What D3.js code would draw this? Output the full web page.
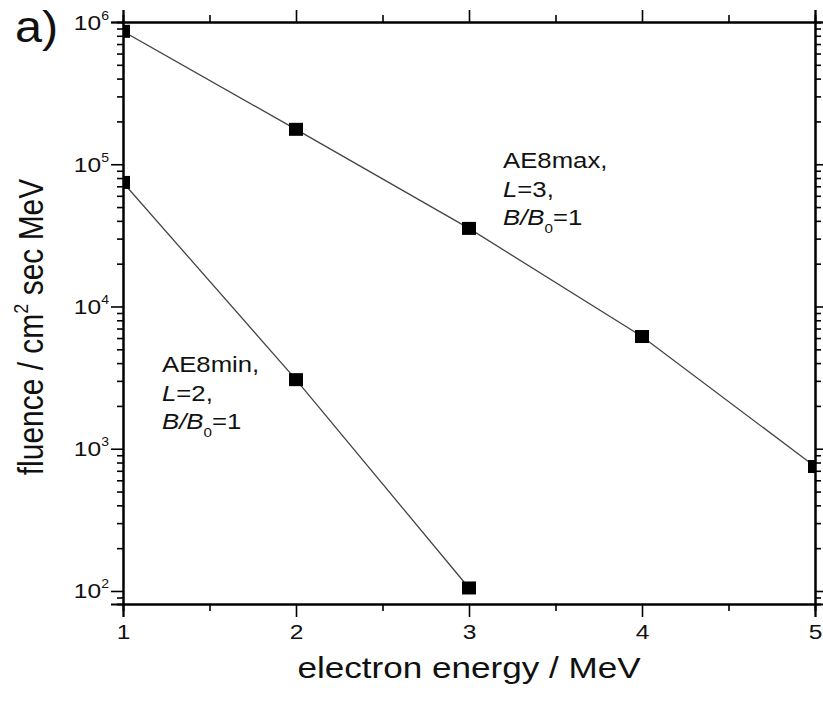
<!DOCTYPE html>
<html>
<head>
<meta charset="utf-8">
<script src="https://cdn.jsdelivr.net/npm/d3@7"></script>
<style>
  body { margin: 0; background: #fff; }
  svg { font-family: Arial, "Liberation Sans", sans-serif; }
</style>
</head>
<body>
<div id="chart"></div>
<script>
// data
var energy = [1, 2, 3, 4, 5];
var ae8max = [8.6e5, 1.76e5, 3.54e4, 6.15e3, 7.5e2];
var energyMin = [1, 2, 3];
var ae8min = [7.45e4, 3.06e3, 1.05e2];
var xMajor = [1, 2, 3, 4, 5];
var xMinor = [1.5, 2.5, 3.5, 4.5];
var yMajor = [1e2, 1e3, 1e4, 1e5, 1e6];
var yExp = [2, 3, 4, 5, 6];

var W = 823, H = 701;
var margin = {top: 22, right: 8, bottom: 97, left: 123};
var width = W - margin.left - margin.right;
var height = H - margin.top - margin.bottom;
var stretch = 1.17; // the original figure is a bit wide for its text

var svg = d3.select('#chart').append('svg')
    .attr('width', W)
    .attr('height', H);

var g = svg.append('g')
    .attr('transform', 'translate(' + margin.left + ',' + margin.top + ')');

var x = d3.scaleLinear().domain([1, 5]).range([0, width]);
var y = d3.scaleLog().domain([81, 1e6]).range([height, 0]);

// minor y ticks 2..9 per decade
var yMinor = [];
yExp.forEach(function(e) {
    for (var k = 2; k <= 9; k++) {
        var v = k * Math.pow(10, e - 1);
        if (v >= 81 && v < 1e6) yMinor.push(v);
    }
});

function styleAxis(sel) {
    sel.select('.domain').attr('stroke', '#000').attr('stroke-width', 2);
    sel.selectAll('.tick line').attr('stroke', '#000').attr('stroke-width', 1.6);
}

// minor ticks
g.append('g').call(d3.axisLeft(y).tickValues(yMinor).tickSize(6).tickFormat(''))
    .call(styleAxis);
g.append('g').attr('transform', 'translate(' + width + ',0)')
    .call(d3.axisRight(y).tickValues(yMinor).tickSize(6).tickFormat(''))
    .call(styleAxis);
g.append('g').attr('transform', 'translate(0,' + height + ')')
    .call(d3.axisBottom(x).tickValues(xMinor).tickSize(7).tickFormat(''))
    .call(styleAxis);
g.append('g')
    .call(d3.axisTop(x).tickValues(xMinor).tickSize(7).tickFormat(''))
    .call(styleAxis);

// major ticks
var left = g.append('g')
    .call(d3.axisLeft(y).tickValues(yMajor).tickSize(12).tickFormat(''))
    .call(styleAxis);
left.selectAll('.tick').each(function(d, i) {
    var t = d3.select(this).append('text')
        .attr('transform', 'translate(-14,7) scale(' + stretch + ',1)')
        .attr('fill', '#111')
        .attr('text-anchor', 'end')
        .style('font-size', '21px');
    t.append('tspan').text('10');
    t.append('tspan').attr('dy', -10).style('font-size', '12px').text(yExp[i]);
});
g.append('g').attr('transform', 'translate(' + width + ',0)')
    .call(d3.axisRight(y).tickValues(yMajor).tickSize(12).tickFormat(''))
    .call(styleAxis);

g.append('g').attr('transform', 'translate(0,' + height + ')')
    .call(d3.axisBottom(x).tickValues(xMajor).tickSize(13).tickPadding(7).tickFormat(d3.format('d')))
    .call(styleAxis)
    .selectAll('text')
        .attr('fill', '#111')
        .attr('transform', 'scale(' + stretch + ',1)')
        .style('font-size', '21px')
        .style('font-family', 'Arial, "Liberation Sans", sans-serif');
g.append('g')
    .call(d3.axisTop(x).tickValues(xMajor).tickSize(12).tickFormat(''))
    .call(styleAxis);

// clip markers to the frame
g.append('clipPath').attr('id', 'clip')
    .append('rect').attr('width', width).attr('height', height);

var line = d3.line()
    .x(function(d) { return x(d[0]); })
    .y(function(d) { return y(d[1]); });

var series = [
    d3.zip(energy, ae8max),
    d3.zip(energyMin, ae8min)
];

var plot = g.append('g').attr('clip-path', 'url(#clip)');

plot.selectAll('.curve')
    .data(series)
    .enter().append('path')
        .attr('class', 'curve')
        .attr('d', line)
        .attr('fill', 'none')
        .attr('stroke', '#444')
        .attr('stroke-width', 1.3);

var sqW = 14, sqH = 13;
series.forEach(function(s) {
    plot.selectAll(null)
        .data(s)
        .enter().append('rect')
            .attr('x', function(d) { return x(d[0]) - sqW / 2; })
            .attr('y', function(d) { return y(d[1]) - sqH / 2; })
            .attr('width', sqW)
            .attr('height', sqH)
            .attr('fill', '#000');
});

// annotations
function note(x0, y0, name, ell) {
    var t = g.append('g')
        .attr('transform', 'translate(' + x0 + ',' + y0 + ') scale(' + stretch + ',1)')
        .style('font-size', '22px').attr('fill', '#111');
    t.append('text').attr('y', 0).text(name);
    var l = t.append('text').attr('y', 29);
    l.append('tspan').style('font-style', 'italic').text('L');
    l.append('tspan').text('=' + ell + ',');
    var b = t.append('text').attr('y', 57);
    b.append('tspan').style('font-style', 'italic').text('B/B');
    b.append('tspan').attr('dy', 8).style('font-size', '13px').text('0');
    b.append('tspan').attr('dy', -8).text('=1');
}
note(503 - margin.left, 168 - margin.top, 'AE8max,', 3);
note(162 - margin.left, 372 - margin.top, 'AE8min,', 2);

// axis titles
svg.append('text')
    .attr('transform', 'translate(469,678) scale(' + stretch + ',1)')
    .attr('text-anchor', 'middle')
    .attr('fill', '#111')
    .style('font-size', '30px')
    .text('electron energy / MeV');

var yt = svg.append('text')
    .attr('transform', 'translate(43,327) scale(' + stretch + ',1) rotate(-90)')
    .attr('text-anchor', 'middle')
    .attr('fill', '#111')
    .style('font-size', '30px');
yt.append('tspan').text('fluence / cm');
yt.append('tspan').attr('dy', -13).style('font-size', '18px').text('2');
yt.append('tspan').attr('dy', 13).text(' sec MeV');

svg.append('text')
    .attr('transform', 'translate(15,42) scale(1.08,1)')
    .attr('fill', '#111')
    .style('font-size', '45px')
    .text('a)');
</script>
</body>
</html>
